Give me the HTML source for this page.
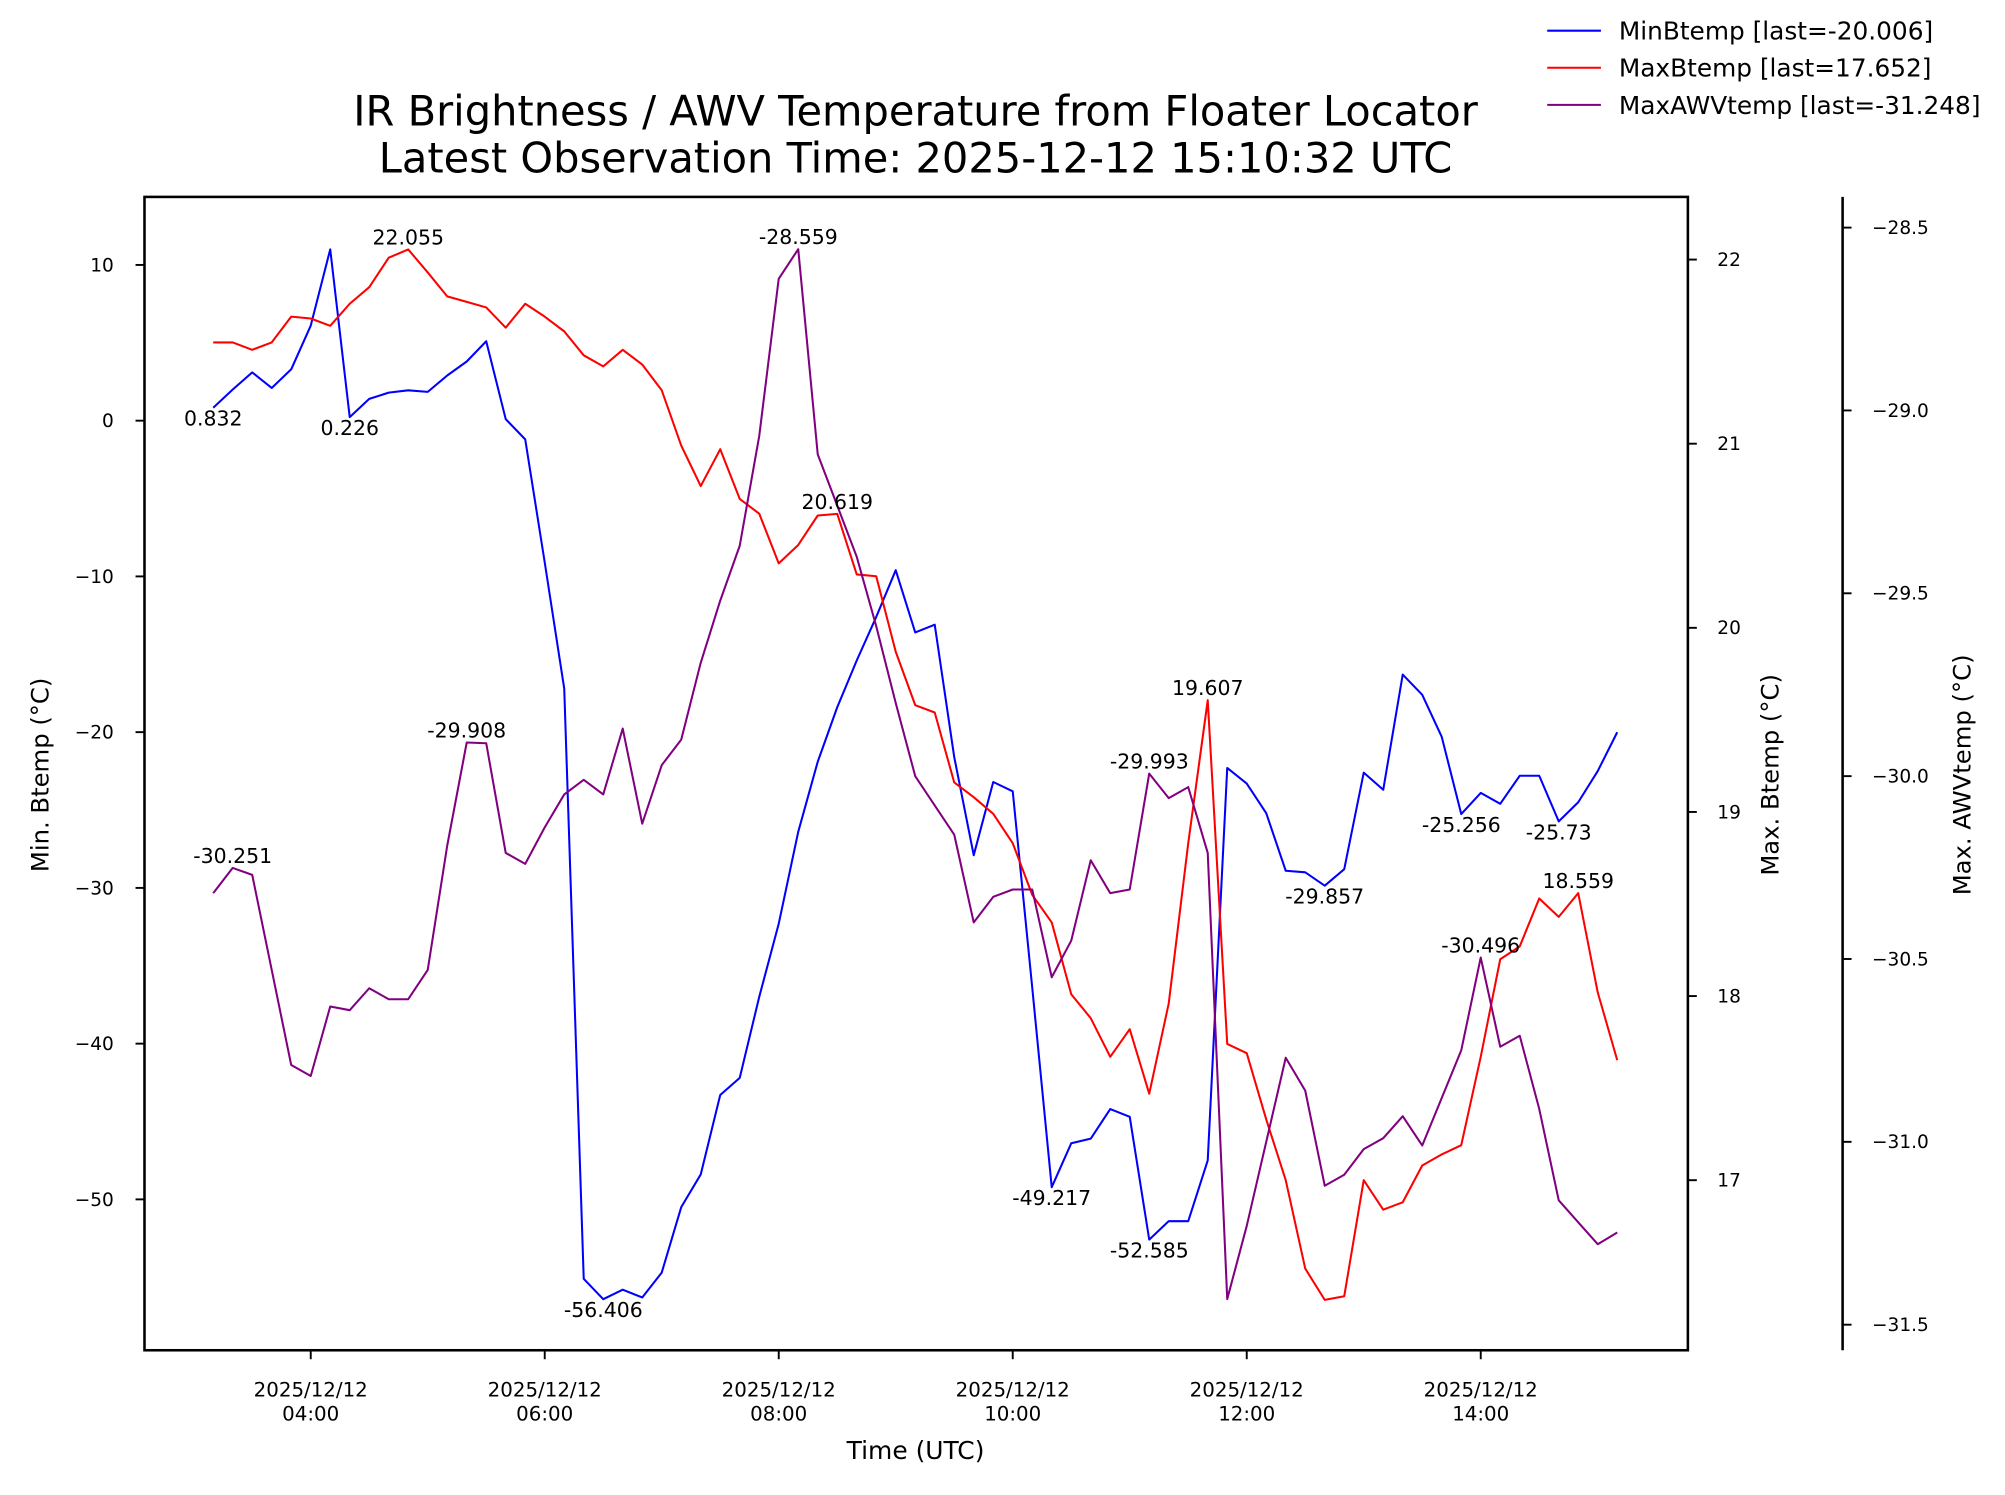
<!DOCTYPE html>
<html><head><meta charset="utf-8"><style>
html,body{margin:0;padding:0;background:#fff;}
svg{display:block;}
text{font-family:"DejaVu Sans","Liberation Sans",sans-serif;fill:#000;}
</style></head><body>
<svg id="chart" width="2005" height="1495" viewBox="0 0 1568 1169.2" preserveAspectRatio="none" xmlns="http://www.w3.org/2000/svg">
<rect x="0" y="0" width="1568" height="1169.2" fill="#fff"/>
<text x="716" y="98" font-size="32.5" text-anchor="middle">IR Brightness / AWV Temperature from Floater Locator</text>
<text x="716" y="135" font-size="32.5" text-anchor="middle">Latest Observation Time: 2025-12-12 15:10:32 UTC</text>
<g id="plot"></g>
<rect x="113" y="154" width="1207" height="902" fill="none" stroke="#000" stroke-width="2"/>
<line x1="1441" y1="154" x2="1441" y2="1056" stroke="#000" stroke-width="2"/>
<g id="axes"></g>
<text x="716" y="1141" font-size="19.5" text-anchor="middle">Time (UTC)</text>
<text x="0" y="0" font-size="19" text-anchor="middle" transform="translate(38,606) rotate(-90)">Min. Btemp (°C)</text>
<text x="0" y="0" font-size="19" text-anchor="middle" transform="translate(1391,606) rotate(-90)">Max. Btemp (°C)</text>
<text x="0" y="0" font-size="19" text-anchor="middle" transform="translate(1541,606) rotate(-90)">Max. AWVtemp (°C)</text>
<g>
<line x1="1210" y1="24" x2="1252" y2="24" stroke="#0000ff" stroke-width="1.6"/>
<text x="1266" y="31" font-size="19.4">MinBtemp [last=-20.006]</text>
<line x1="1210" y1="53" x2="1252" y2="53" stroke="#ff0000" stroke-width="1.6"/>
<text x="1266" y="60" font-size="19.4">MaxBtemp [last=17.652]</text>
<line x1="1210" y1="82" x2="1252" y2="82" stroke="#800080" stroke-width="1.6"/>
<text x="1266" y="89" font-size="19.4">MaxAWVtemp [last=-31.248]</text>
</g>
</svg>
<script>
const times = ["03:10","03:20","03:30","03:40","03:50","04:00","04:10","04:20","04:30","04:40","04:50","05:00","05:10","05:20","05:30","05:40","05:50","06:00","06:10","06:20","06:30","06:40","06:50","07:00","07:10","07:20","07:30","07:40","07:50","08:00","08:10","08:20","08:30","08:40","08:50","09:00","09:10","09:20","09:30","09:40","09:50","10:00","10:10","10:20","10:30","10:40","10:50","11:00","11:10","11:20","11:30","11:40","11:50","12:00","12:10","12:20","12:30","12:40","12:50","13:00","13:10","13:20","13:30","13:40","13:50","14:00","14:10","14:20","14:30","14:40","14:50","15:00","15:10"];
const minBtemp = [0.832,2.0,3.1,2.1,3.3,6.1,11.0,0.226,1.4,1.8,1.95,1.85,2.9,3.8,5.1,0.1,-1.2,-9.1,-17.2,-55.1,-56.406,-55.8,-56.3,-54.7,-50.5,-48.4,-43.3,-42.2,-37.0,-32.3,-26.4,-21.9,-18.4,-15.4,-12.6,-9.6,-13.6,-13.1,-21.6,-27.9,-23.2,-23.8,-36.4,-49.217,-46.4,-46.1,-44.2,-44.7,-52.585,-51.4,-51.4,-47.5,-22.3,-23.3,-25.2,-28.9,-29.0,-29.857,-28.8,-22.6,-23.7,-16.3,-17.6,-20.3,-25.256,-23.9,-24.6,-22.8,-22.8,-25.73,-24.5,-22.5,-20.006];
const maxBtemp = [21.55,21.55,21.51,21.55,21.69,21.68,21.64,21.76,21.85,22.01,22.055,21.93,21.80,21.77,21.74,21.63,21.76,21.69,21.61,21.48,21.42,21.51,21.43,21.29,20.99,20.77,20.97,20.70,20.62,20.35,20.45,20.61,20.619,20.29,20.28,19.87,19.58,19.54,19.16,19.08,18.99,18.83,18.55,18.40,18.01,17.88,17.67,17.82,17.47,17.96,18.83,19.607,17.74,17.69,17.33,17.00,16.52,16.35,16.37,17.00,16.84,16.88,17.08,17.14,17.19,17.67,18.20,18.27,18.53,18.43,18.559,18.02,17.652];
const maxAWV = [-30.32,-30.251,-30.27,-30.53,-30.79,-30.82,-30.63,-30.64,-30.58,-30.61,-30.61,-30.53,-30.19,-29.908,-29.91,-30.21,-30.24,-30.14,-30.05,-30.01,-30.05,-29.87,-30.13,-29.97,-29.90,-29.69,-29.52,-29.37,-29.07,-28.64,-28.559,-29.12,-29.26,-29.40,-29.59,-29.80,-30.00,-30.08,-30.16,-30.40,-30.33,-30.31,-30.31,-30.55,-30.45,-30.23,-30.32,-30.31,-29.993,-30.06,-30.03,-30.21,-31.43,-31.23,-31.00,-30.77,-30.86,-31.12,-31.09,-31.02,-30.99,-30.93,-31.01,-30.88,-30.75,-30.496,-30.74,-30.71,-30.91,-31.16,-31.22,-31.28,-31.248];
const minAnnot = [0,7,20,43,48,57,64,69];
const maxAnnot = [10,32,51,70];
const awvAnnot = [1,13,30,48,65];
const xTickTimes = ["04:00","06:00","08:00","10:00","12:00","14:00"];
const xTickDate = "2025/12/12";
const leftTicks = [10,0,-10,-20,-30,-40,-50];
const rightTicks = [22,21,20,19,18,17];
const awvTicks = [-28.5,-29.0,-29.5,-30.0,-30.5,-31.0,-31.5];

const NS = "http://www.w3.org/2000/svg";
function toMin(t){const p=t.split(":");return +p[0]*60+ +p[1];}
function xScale(t){return 243 + (toMin(t)-240)*91.5/60;}
function yMin(v){return 329 - 12.18*v;}
function yMax(v){return 923 - 144*(v-17);}
function yAwv(v){return 178 - 286*(v+28.5);}
function fmtMinus(s){return String(s).replace("-","\u2212");}
function mk(tag,attrs,parent){const e=document.createElementNS(NS,tag);for(const k in attrs)e.setAttribute(k,attrs[k]);parent.appendChild(e);return e;}

const plot=document.getElementById("plot");
const axes=document.getElementById("axes");

function drawSeries(vals,ys,color,name){
  const pts=vals.map((v,i)=>xScale(times[i]).toFixed(2)+","+ys(v).toFixed(2)).join(" ");
  const pl=mk("polyline",{points:pts,fill:"none",stroke:color,"stroke-width":"1.6","stroke-linejoin":"round"},plot);
  
  
}
drawSeries(minBtemp,yMin,"#0000ff","minbtemp-line");
drawSeries(maxBtemp,yMax,"#ff0000","maxbtemp-line");
drawSeries(maxAWV,yAwv,"#800080","maxawv-line");

function annotate(idxs,vals,ys,below,name){
  idxs.forEach(i=>{
    const x=xScale(times[i]);const y=ys(vals[i]);
    const t=mk("text",{x:x.toFixed(1),y:(below?y+14:y-4).toFixed(1),"font-size":"16","text-anchor":"middle"},plot);
    t.textContent=String(vals[i]);
    
    
  });
}
annotate(minAnnot,minBtemp,yMin,true,"minbtemp-annotation");
annotate(maxAnnot,maxBtemp,yMax,false,"maxbtemp-annotation");
annotate(awvAnnot,maxAWV,yAwv,false,"maxawv-annotation");

xTickTimes.forEach(t=>{
  const x=xScale(t);
  const l=mk("line",{x1:x,y1:1056,x2:x,y2:1063,stroke:"#000","stroke-width":"1.5"},axes);
  
  
  const a=mk("text",{x:x,y:1092,"font-size":"15.5","text-anchor":"middle"},axes);
  a.textContent=xTickDate;
  
  
  const b=mk("text",{x:x,y:1111,"font-size":"15.5","text-anchor":"middle"},axes);
  b.textContent=t;
  
  
});
leftTicks.forEach(v=>{
  const y=yMin(v);
  const l=mk("line",{x1:106,y1:y,x2:113,y2:y,stroke:"#000","stroke-width":"1.5"},axes);
  
  
  const t=mk("text",{x:89,y:y+5,"font-size":"14.5","text-anchor":"end"},axes);
  t.textContent=fmtMinus(v);
  
  
});
rightTicks.forEach(v=>{
  const y=yMax(v);
  const l=mk("line",{x1:1320,y1:y,x2:1327,y2:y,stroke:"#000","stroke-width":"1.5"},axes);
  
  
  const t=mk("text",{x:1343,y:y+5,"font-size":"14.5"},axes);
  t.textContent=String(v);
  
  
});
awvTicks.forEach(v=>{
  const y=yAwv(v);
  const l=mk("line",{x1:1441,y1:y,x2:1448,y2:y,stroke:"#000","stroke-width":"1.5"},axes);
  
  
  const t=mk("text",{x:1464,y:y+5,"font-size":"14.5"},axes);
  t.textContent=fmtMinus(v.toFixed(1));
  
  
});
</script>
</body></html>
